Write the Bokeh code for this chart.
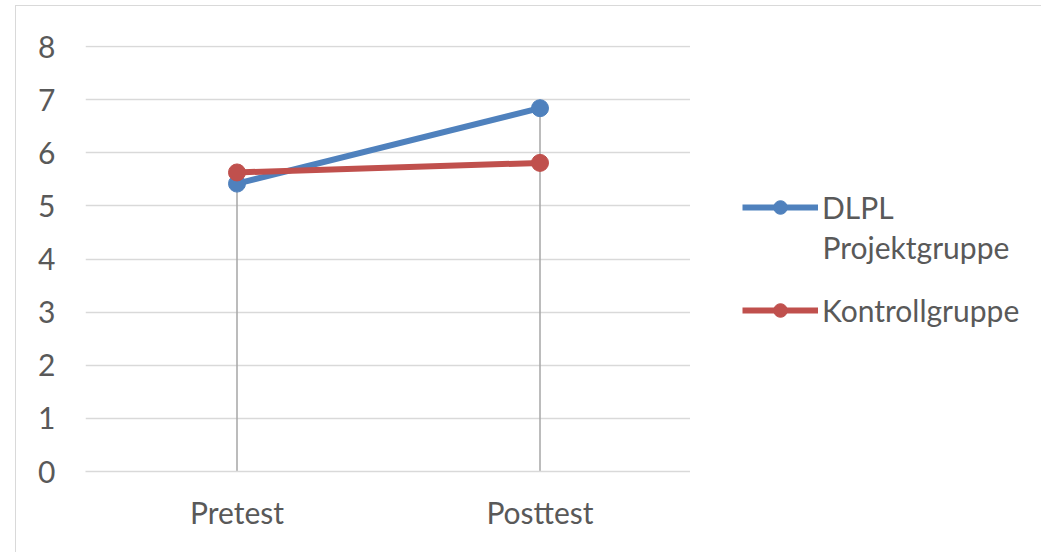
from bokeh.plotting import figure
from bokeh.layouts import row
from bokeh.models import Legend, LegendItem, ColumnDataSource, FactorRange, Label, Range1d
from bokeh.embed import file_html
from bokeh.resources import INLINE

categories = ["Pretest", "Posttest"]
series_names = ["DLPL", "Kontrollgruppe"]
series_name_second_line = "Projektgruppe"
dlpl = [5.42, 6.84]
kontroll = [5.63, 5.81]
y_ticks = [0, 1, 2, 3, 4, 5, 6, 7, 8]

FONT = "Lato"
TXT = "#595959"
FS = "30px"
blue = "#4F81BD"
red = "#C0504D"
BORDER = "1px solid #d9d9d9"

# main chart
p = figure(width=675, height=547, x_range=FactorRange(*categories, range_padding=0),
           y_range=(0, 8.02), output_backend="svg", toolbar_location=None,
           min_border_left=69, min_border_top=39, min_border_bottom=82, min_border_right=0)
p.margin = (5, 0, 0, 15)
p.styles = {"border-left": BORDER, "border-top": BORDER}
p.outline_line_color = None
p.background_fill_color = "white"

p.xgrid.grid_line_color = None
p.ygrid.grid_line_color = "#d9d9d9"
p.ygrid.grid_line_width = 1.5
p.yaxis.ticker = y_ticks
p.yaxis.axis_line_color = None
p.yaxis.major_tick_line_color = None
p.yaxis.minor_tick_line_color = None
p.yaxis.major_label_standoff = 24
p.yaxis.major_label_text_font = FONT
p.yaxis.major_label_text_font_size = FS
p.yaxis.major_label_text_color = TXT

p.xaxis.axis_line_color = "#d9d9d9"
p.xaxis.axis_line_width = 1.5
p.xaxis.major_tick_line_color = None
p.xaxis.minor_tick_line_color = None
p.xaxis.major_label_standoff = 16
p.xaxis.major_label_text_font = FONT
p.xaxis.major_label_text_font_size = FS
p.xaxis.major_label_text_color = TXT

# drop lines
top = [max(a, b) for a, b in zip(dlpl, kontroll)]
p.segment(x0=categories, y0=[0] * len(categories), x1=categories, y1=top,
          line_color="#a6a6a6", line_width=1.5)

src1 = ColumnDataSource(dict(x=categories, y=dlpl))
src2 = ColumnDataSource(dict(x=categories, y=kontroll))
p.line("x", "y", source=src1, line_color=blue, line_width=6)
p.scatter("x", "y", source=src1, size=17, color=blue)
p.line("x", "y", source=src2, line_color=red, line_width=6)
p.scatter("x", "y", source=src2, size=17, color=red)

# legend panel (series are drawn out of its view; only the legend shows)
q = figure(width=351, height=547, x_range=FactorRange(*categories, range_padding=0),
           y_range=Range1d(-2, -1), output_backend="svg", toolbar_location=None,
           min_border_left=0, min_border_right=0, min_border_top=39, min_border_bottom=82)
q.margin = (5, 0, 0, 0)
q.styles = {"border-top": BORDER}
q.axis.visible = False
q.grid.visible = False
q.outline_line_color = None

ql1 = q.line("x", "y", source=src1, line_color=blue, line_width=6)
qm1 = q.scatter("x", "y", source=src1, size=13, color=blue)
ql2 = q.line("x", "y", source=src2, line_color=red, line_width=6)
qm2 = q.scatter("x", "y", source=src2, size=13, color=red)

legend = Legend(items=[LegendItem(label=series_names[0], renderers=[ql1, qm1]),
                       LegendItem(label=series_names[1], renderers=[ql2, qm2])],
                location=(52, 143), label_text_font=FONT, label_text_font_size=FS,
                label_text_color=TXT, border_line_color=None, glyph_width=76,
                glyph_height=34, label_standoff=4, spacing=67, padding=0, margin=0,
                background_fill_alpha=0)
q.add_layout(legend)
q.add_layout(Label(x=132, y=225, x_units="screen", y_units="screen",
                   text=series_name_second_line,
                   text_font=FONT, text_font_size=FS, text_color=TXT,
                   text_baseline="middle"))

open("out.html", "w").write(file_html(row(p, q), INLINE))
